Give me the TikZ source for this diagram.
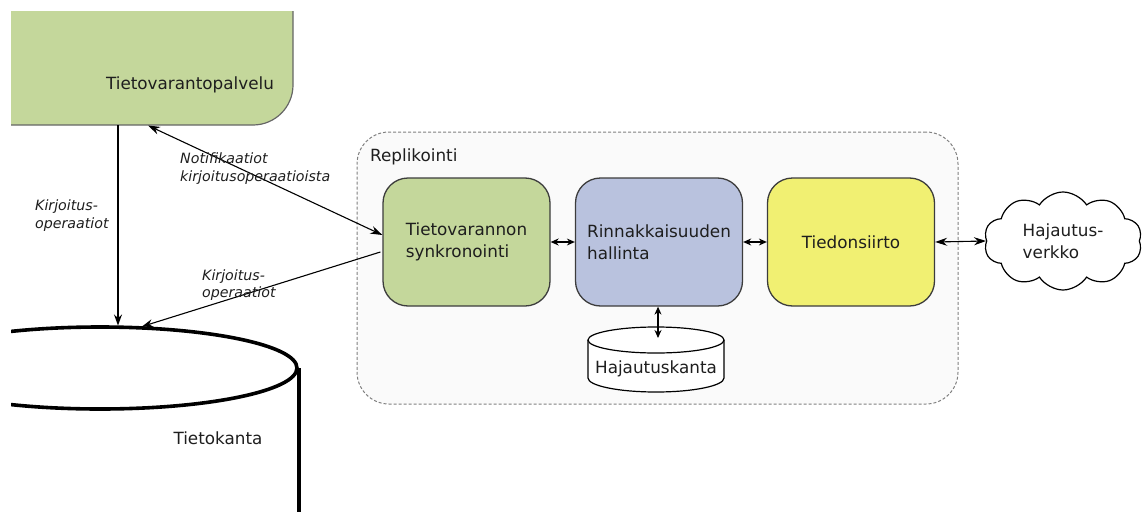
\documentclass[tikz,border=0pt]{standalone}
\usepackage{fontspec}
\setmainfont{DejaVu Sans}
\usetikzlibrary{arrows.meta,shapes.geometric,shapes.symbols,calc}

\definecolor{boxgreen}{RGB}{196,215,155}
\definecolor{boxblue}{RGB}{185,194,222}
\definecolor{boxyellow}{RGB}{241,240,114}
\definecolor{edge}{RGB}{60,60,60}
\definecolor{txt}{RGB}{30,30,30}

\tikzset{
  base/.style={font=\fontsize{16.8}{22}\selectfont, text=txt},
  lbl/.style={font=\fontsize{14.2}{17.5}\selectfont\itshape, text=txt, align=left, inner sep=0pt},
  modbox/.style={base, draw=edge, line width=1.3pt, rounded corners=25pt,
                 minimum width=167pt, minimum height=128pt, align=left},
  conn/.style={line width=1.1pt, -{Stealth[length=11pt,width=8pt]}},
  biconn/.style={line width=1.1pt, {Stealth[length=8pt,width=7pt]}-{Stealth[length=8pt,width=7pt]}},
  bigbiconn/.style={line width=1.1pt, {Stealth[length=12pt,width=8pt]}-{Stealth[length=12pt,width=8pt]}},
}

\begin{document}
\begin{tikzpicture}[x=1pt,y=-1pt]
\useasboundingbox (0,0) rectangle (1147,511);

% service box and main database, cut at the picture edge
\begin{scope}
  \clip (11,12) rectangle (1147,515);
  \fill[boxgreen, rounded corners=40pt] (-60,-60) -- (293,-60) -- (293,125) -- (-60,125) -- cycle;
  \draw[gray!80!black, line width=1.2pt, rounded corners=40pt] (293,-60) -- (293,125) -- (-60,125);
  \node[draw=black, line width=3.6pt, ellipse, minimum width=394pt, minimum height=82pt] (tk) at (100,368) {};
  \draw[line width=3.6pt] (tk.east) -- ++(0,160);
\end{scope}
\node[inner sep=0pt, minimum width=282pt, minimum height=113pt] (tvp) at (152,68.5) {};
\node[base] (tvplabel) at (190,85) {Tietovarantopalvelu};
\node[base] (tklabel) at (218,438) {Tietokanta};

% replication container
\node[draw=gray, dash pattern=on 3pt off 2pt, line width=1pt, fill=gray!4,
      rounded corners=32pt, minimum width=601pt, minimum height=272pt] (repl) at (657.5,268) {};
\node[base, anchor=west, inner sep=0pt] (repllabel) at (370,157) {Replikointi};

% modules
\node[modbox, fill=boxgreen] (sync) at (466.5,242) {Tietovarannon\\synkronointi};
\node[modbox, fill=boxblue] (conc) at (659,242) {Rinnakkaisuuden\\hallinta};
\node[modbox, fill=boxyellow] (tx) at (851,242) {Tiedonsiirto};

% distribution database (cylinder)
\draw[line width=1.2pt, fill=white] (588,340) -- (588,378)
  arc[start angle=180, end angle=360, x radius=68pt, y radius=14pt] -- (724,340);
\draw[line width=1.2pt, fill=white] (656,340) ellipse[x radius=68pt, y radius=13pt];
\node[base, inner sep=0pt] (hk) at (656,369) {Hajautuskanta};
\coordinate (hktop) at (658,338);

% network cloud
\node[base, cloud, cloud puffs=10, cloud puff arc=115, aspect=1.6, draw=black, line width=1.2pt,
      fill=white, minimum width=158pt, minimum height=98pt, align=left] (net) at (1063,241) {Hajautus-\\verkko};

% connector end points
\coordinate (w1) at (118,125);
\coordinate (w1end) at (118,325.5);
\coordinate (n1) at (148,125.5);
\coordinate (w2end) at (142,326.5);

% connectors
\draw[conn] (w1) -- (w1end);
\draw[bigbiconn] (n1) -- ($(sync.west)+(0,-7)$);
\draw[conn] ($(sync.west)+(-2,10)$) -- (w2end);
\draw[biconn] (sync.east) -- (conc.west);
\draw[biconn] (conc.east) -- (tx.west);
\draw[bigbiconn] (tx.east) -- (net.west);
\draw[biconn] (conc.south -| hktop) -- (hktop);

% connector labels
\node[lbl, anchor=west] (lw1) at (35,215.5) {Kirjoitus-\\operaatiot};
\node[lbl, anchor=west] (ln1) at (180,168.5) {Notifikaatiot\\kirjoitusoperaatioista};
\node[lbl, anchor=west] (lw2) at (202,285) {Kirjoitus-\\operaatiot};
\end{tikzpicture}
\end{document}
